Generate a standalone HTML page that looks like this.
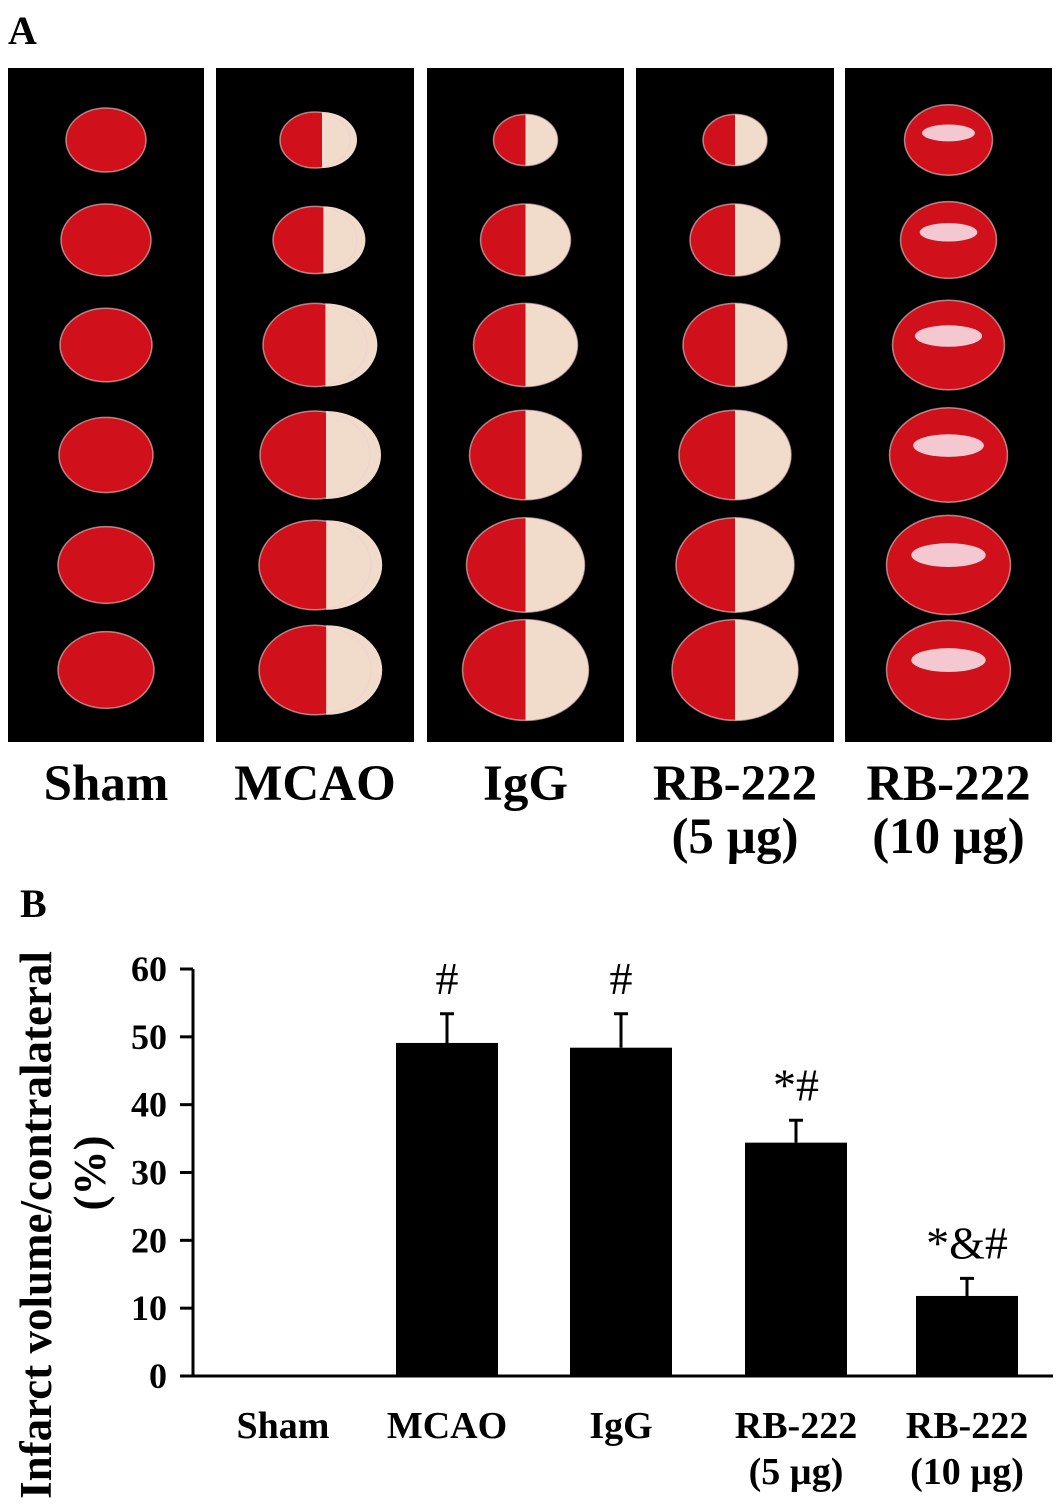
<!DOCTYPE html>
<html><head><meta charset="utf-8">
<style>
html,body{margin:0;padding:0;background:#fff;}
svg{display:block;font-family:"Liberation Serif",serif;font-weight:bold;}
</style></head>
<body>
<svg width="1063" height="1505" viewBox="0 0 1063 1505">
<text x="8" y="44" font-size="40">A</text>
<g id="panels"></g>
<g id="toplabels"></g>
<text x="20" y="917" font-size="40">B</text>
<g id="chart"></g>
</svg>
<script>
const categories = ["Sham","MCAO","IgG","RB-222|(5 µg)","RB-222|(10 µg)"];
const values = [0, 49.1, 48.4, 34.4, 11.8];
const errors = [0, 4.3, 5.0, 3.3, 2.6];
const annotations = ["", "#", "#", "*#", "*&#"];
const yTicks = [0,10,20,30,40,50,60];

const NS="http://www.w3.org/2000/svg";
function mk(tag, attrs, parent, text){
  const e=document.createElementNS(NS,tag);
  for(const k in attrs) e.setAttribute(k,attrs[k]);
  if(text!==undefined) e.textContent=text;
  parent.appendChild(e); return e;
}

// Panel A
const panels=document.getElementById('panels');
const px=[[8,204],[216,414],[427,624],[636,834],[845,1052]];
const rowsY=[140,240,345,455,565,670];
const widths=[[80,90,92,94,96,96],[70,84,104,110,112,112],[64,90,104,112,118,126],[64,90,104,112,118,126],[88,96,112,118,124,124]];
px.forEach((p,i)=>{
  const r=mk('rect',{x:p[0],y:68,width:p[1]-p[0],height:674,fill:'#000'},panels);
  
  
  const cx=(p[0]+p[1])/2;
  rowsY.forEach((cy,j)=>{
    const w=widths[i][j], h=w*0.8;
    mk('ellipse',{cx:cx,cy:cy,rx:w/2,ry:h/2,fill:'#d0101a'},panels);
    if(i>=1 && i<=3){
      mk('path',{d:`M${cx+ (i==1?w*0.1:0)} ${cy-h/2} A${w/2} ${h/2} 0 0 1 ${cx+(i==1?w*0.1:0)} ${cy+h/2} Z`,fill:'#f1dccb'},panels);
    }
    if(i==4){ mk('ellipse',{cx:cx,cy:cy-h*0.1,rx:w*0.3,ry:h*0.12,fill:'#f4c8d0'},panels); }
    mk('ellipse',{cx:cx,cy:cy,rx:w/2,ry:h/2,fill:'none',stroke:'#f0d0d0','stroke-width':1.5,'stroke-opacity':0.6},panels);
  });
});
const tl=document.getElementById('toplabels');
const topLab=[["Sham"],["MCAO"],["IgG"],["RB-222","(5 µg)"],["RB-222","(10 µg)"]];
topLab.forEach((l,i)=>{
  const cx=(px[i][0]+px[i][1])/2;
  l.forEach((s,k)=>{
    const t=mk('text',{x:cx,y:800+k*53,'font-size':51,'text-anchor':'middle'},tl,s);
    
    
  });
});

// Chart
const chart=document.getElementById('chart');
const X0=193, X1=1053, Y0=1376, Y60=969;
const yS=v=>Y0-(v/60)*(Y0-Y60);
const centers=[283,447,621,796,967];
const xS=i=>centers[i];
const bw=102;
mk('line',{x1:X0,y1:Y60,x2:X0,y2:Y0,stroke:'#000','stroke-width':3},chart);
mk('line',{x1:X0-13,y1:Y0,x2:X1,y2:Y0,stroke:'#000','stroke-width':3},chart);
yTicks.forEach(v=>{
  const y=yS(v);
  const tk=mk('line',{x1:X0-13,y1:y,x2:X0,y2:y,stroke:'#000','stroke-width':3},chart);
  
  
  const t=mk('text',{x:X0-26,y:y+12,'font-size':36,'text-anchor':'end'},chart,String(v));
  
  
});
const yt=mk('text',{transform:'translate(51,1225) rotate(-90)','font-size':45,'text-anchor':'middle'},chart,"Infarct volume/contralateral");


const yt2=mk('text',{transform:'translate(105,1173) rotate(-90)','font-size':45,'text-anchor':'middle'},chart,"(%)");



categories.forEach((c,i)=>{
  const cx=xS(i), v=values[i];
  if(v>0){
    const b=mk('rect',{x:cx-bw/2,y:yS(v),width:bw,height:Y0-yS(v),fill:'#000'},chart);
    
    
    const e=mk('path',{d:`M${cx} ${yS(v)} V${yS(v+errors[i])} M${cx-7} ${yS(v+errors[i])} H${cx+7}`,stroke:'#000','stroke-width':3,fill:'none'},chart);
    
    
  }
  if(annotations[i]){
    const a=mk('text',{x:cx,y:yS(v+errors[i])-20,'font-size':46,'font-weight':'normal','text-anchor':'middle'},chart,annotations[i]);
    
    
  }
  c.split('|').forEach((s,k)=>{
    const t=mk('text',{x:cx,y:1438+k*46,'font-size':38,'text-anchor':'middle'},chart,s);
    
    
  });
});
</script>
</body></html>
